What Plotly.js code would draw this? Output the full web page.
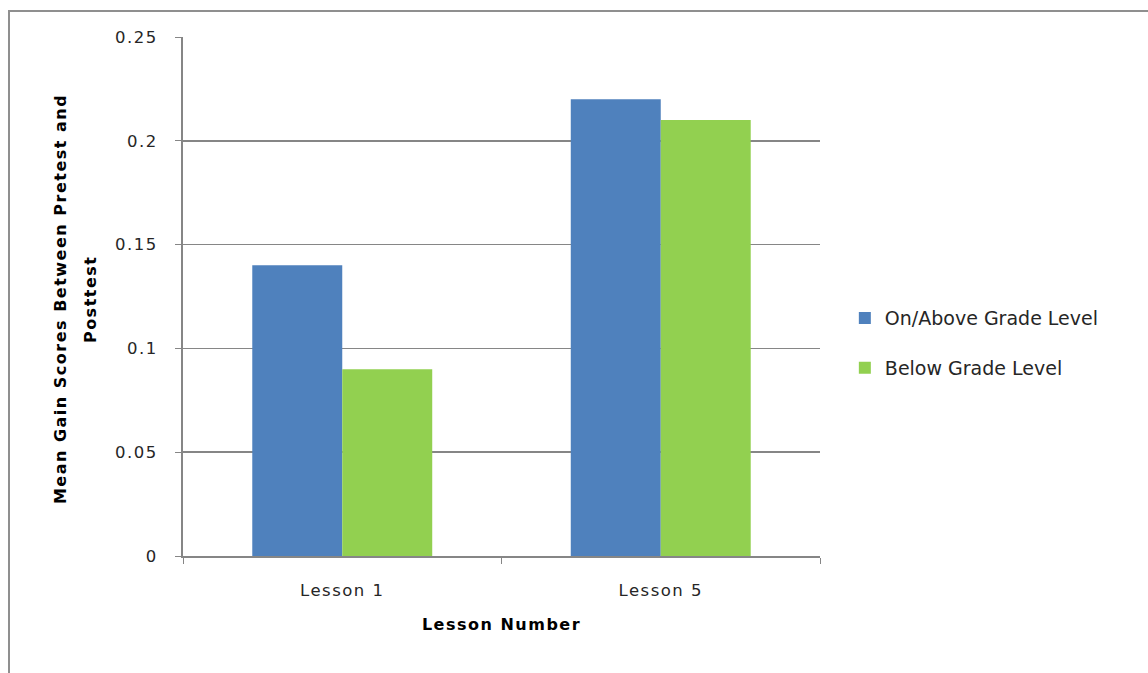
<!DOCTYPE html>
<html><head><meta charset="utf-8">
<script src="https://cdn.plot.ly/plotly-3.0.1.min.js"></script>
<style>
body{margin:0;padding:0;background:#fff;}
#chart{position:absolute;left:0;top:0;width:1148px;height:673px;}
#chart .xtick text, #chart .ytick text, #chart .xtitle, #chart .annotation-text{letter-spacing:1.5px;}
#frame{position:absolute;left:8px;top:10px;width:1160px;height:680px;border:2px solid #8f8f8f;pointer-events:none;}
</style></head>
<body>
<div id="chart"></div>
<div id="frame"></div>
<script>
const categories = ['Lesson 1', 'Lesson 5'];
const onAbove = [0.14, 0.22];
const below = [0.09, 0.21];
const seriesNames = ['On/Above Grade Level', 'Below Grade Level'];
const yTicks = [0, 0.05, 0.1, 0.15, 0.2, 0.25];
const yTickText = ['0', '0.05', '0.1', '0.15', '0.2', '0.25'];
const xTitle = 'Lesson Number';
const yTitleLines = ['Mean Gain Scores Between Pretest and', 'Posttest'];

const font = 'DejaVu Sans, sans-serif';
const traces = [
  {type:'bar', x:categories, y:onAbove, name:seriesNames[0], marker:{color:'#4F81BD'}, legendgroup:'a', hoverinfo:'none'},
  {type:'bar', x:categories, y:below, name:seriesNames[1], marker:{color:'#92D050'}, legendgroup:'b', hoverinfo:'none'}
];
const layout = {
  width:1148, height:673,
  margin:{l:183, r:328, t:37, b:117},
  paper_bgcolor:'#fff', plot_bgcolor:'#fff',
  barmode:'group', bargap:0.435, bargroupgap:0,
  showlegend:true,
  legend:{x:1.039, xanchor:'left', y:0.41, yanchor:'middle', font:{family:font, size:19, color:'#262626'}, tracegroupgap:22, itemwidth:30},
  xaxis:{
    type:'category', tickson:'boundaries', ticks:'outside', ticklen:6, tickcolor:'#868686',
    showline:true, linecolor:'#868686', linewidth:2, showgrid:false, ticklabelstandoff:18,
    tickfont:{family:font, size:16.5, color:'#262626'},
    title:{text:'<b>' + xTitle + '</b>', font:{family:font, size:16, color:'#000'}, standoff:20}
  },
  yaxis:{
    range:[0,0.25], tickvals:yTicks, ticktext:yTickText, ticks:'outside', ticklen:6, tickcolor:'#868686',
    showline:true, linecolor:'#868686', linewidth:2, showgrid:true, gridcolor:'#868686', gridwidth:1.5,
    zeroline:false, ticklabelstandoff:14,
    tickfont:{family:font, size:16.5, color:'#262626'}
  },
  annotations:[
    {text:'<b>' + yTitleLines[0] + '</b>', xref:'paper', yref:'paper', x:0, y:0.495, xshift:-123, xanchor:'center', yanchor:'middle', textangle:-90, showarrow:false, font:{family:font, size:16, color:'#000'}},
    {text:'<b>' + yTitleLines[1] + '</b>', xref:'paper', yref:'paper', x:0, y:0.495, xshift:-93, xanchor:'center', yanchor:'middle', textangle:-90, showarrow:false, font:{family:font, size:16, color:'#000'}}
  ]
};
Plotly.newPlot('chart', traces, layout, {staticPlot:true});
</script>
</body></html>
